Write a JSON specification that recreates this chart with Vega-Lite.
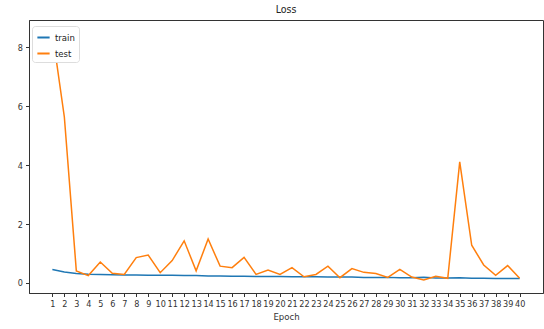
{
  "$schema": "https://vega.github.io/schema/vega-lite/v6.json",
  "width": 514,
  "height": 273,
  "autosize": {"type": "none"},
  "padding": {"left": 29, "top": 20, "right": 1, "bottom": 36},
  "background": "white",
  "title": {"text": "Loss", "fontSize": 10.5, "font": "DejaVu Sans Condensed", "fontWeight": "normal", "color": "#222", "offset": 5},
  "config": {
    "view": {"stroke": "#333", "strokeWidth": 1},
    "axis": {"labelFont": "DejaVu Sans Condensed", "titleFont": "DejaVu Sans Condensed", "labelFontSize": 9, "titleFontSize": 9.5, "labelColor": "#333", "titleColor": "#333", "titleFontWeight": "normal", "tickColor": "#333", "domainColor": "#333", "grid": false, "tickSize": 3.5}
  },
  "data": {"values": [
    {"epoch": 1, "series": "train", "loss": 0.46}, {"epoch": 2, "series": "train", "loss": 0.37}, {"epoch": 3, "series": "train", "loss": 0.32}, {"epoch": 4, "series": "train", "loss": 0.30}, {"epoch": 5, "series": "train", "loss": 0.29}, {"epoch": 6, "series": "train", "loss": 0.28}, {"epoch": 7, "series": "train", "loss": 0.27}, {"epoch": 8, "series": "train", "loss": 0.27}, {"epoch": 9, "series": "train", "loss": 0.26}, {"epoch": 10, "series": "train", "loss": 0.26},
    {"epoch": 11, "series": "train", "loss": 0.26}, {"epoch": 12, "series": "train", "loss": 0.25}, {"epoch": 13, "series": "train", "loss": 0.25}, {"epoch": 14, "series": "train", "loss": 0.24}, {"epoch": 15, "series": "train", "loss": 0.24}, {"epoch": 16, "series": "train", "loss": 0.23}, {"epoch": 17, "series": "train", "loss": 0.23}, {"epoch": 18, "series": "train", "loss": 0.22}, {"epoch": 19, "series": "train", "loss": 0.22}, {"epoch": 20, "series": "train", "loss": 0.22},
    {"epoch": 21, "series": "train", "loss": 0.21}, {"epoch": 22, "series": "train", "loss": 0.21}, {"epoch": 23, "series": "train", "loss": 0.21}, {"epoch": 24, "series": "train", "loss": 0.20}, {"epoch": 25, "series": "train", "loss": 0.20}, {"epoch": 26, "series": "train", "loss": 0.20}, {"epoch": 27, "series": "train", "loss": 0.19}, {"epoch": 28, "series": "train", "loss": 0.19}, {"epoch": 29, "series": "train", "loss": 0.19}, {"epoch": 30, "series": "train", "loss": 0.18},
    {"epoch": 31, "series": "train", "loss": 0.18}, {"epoch": 32, "series": "train", "loss": 0.19}, {"epoch": 33, "series": "train", "loss": 0.17}, {"epoch": 34, "series": "train", "loss": 0.17}, {"epoch": 35, "series": "train", "loss": 0.18}, {"epoch": 36, "series": "train", "loss": 0.16}, {"epoch": 37, "series": "train", "loss": 0.16}, {"epoch": 38, "series": "train", "loss": 0.15}, {"epoch": 39, "series": "train", "loss": 0.15}, {"epoch": 40, "series": "train", "loss": 0.15},
    {"epoch": 1, "series": "test", "loss": 8.5}, {"epoch": 2, "series": "test", "loss": 5.63}, {"epoch": 3, "series": "test", "loss": 0.41}, {"epoch": 4, "series": "test", "loss": 0.25}, {"epoch": 5, "series": "test", "loss": 0.71}, {"epoch": 6, "series": "test", "loss": 0.33}, {"epoch": 7, "series": "test", "loss": 0.29}, {"epoch": 8, "series": "test", "loss": 0.86}, {"epoch": 9, "series": "test", "loss": 0.95}, {"epoch": 10, "series": "test", "loss": 0.35},
    {"epoch": 11, "series": "test", "loss": 0.76}, {"epoch": 12, "series": "test", "loss": 1.43}, {"epoch": 13, "series": "test", "loss": 0.41}, {"epoch": 14, "series": "test", "loss": 1.49}, {"epoch": 15, "series": "test", "loss": 0.57}, {"epoch": 16, "series": "test", "loss": 0.52}, {"epoch": 17, "series": "test", "loss": 0.87}, {"epoch": 18, "series": "test", "loss": 0.29}, {"epoch": 19, "series": "test", "loss": 0.44}, {"epoch": 20, "series": "test", "loss": 0.29},
    {"epoch": 21, "series": "test", "loss": 0.52}, {"epoch": 22, "series": "test", "loss": 0.21}, {"epoch": 23, "series": "test", "loss": 0.29}, {"epoch": 24, "series": "test", "loss": 0.57}, {"epoch": 25, "series": "test", "loss": 0.18}, {"epoch": 26, "series": "test", "loss": 0.49}, {"epoch": 27, "series": "test", "loss": 0.36}, {"epoch": 28, "series": "test", "loss": 0.32}, {"epoch": 29, "series": "test", "loss": 0.19}, {"epoch": 30, "series": "test", "loss": 0.46},
    {"epoch": 31, "series": "test", "loss": 0.20}, {"epoch": 32, "series": "test", "loss": 0.10}, {"epoch": 33, "series": "test", "loss": 0.23}, {"epoch": 34, "series": "test", "loss": 0.16}, {"epoch": 35, "series": "test", "loss": 4.11}, {"epoch": 36, "series": "test", "loss": 1.28}, {"epoch": 37, "series": "test", "loss": 0.61}, {"epoch": 38, "series": "test", "loss": 0.26}, {"epoch": 39, "series": "test", "loss": 0.59}, {"epoch": 40, "series": "test", "loss": 0.16}
  ]},
  "mark": {"type": "line", "strokeWidth": 1.5, "clip": true},
  "encoding": {
    "x": {"field": "epoch", "type": "quantitative", "title": "Epoch",
      "scale": {"domain": [-0.95, 41.95], "nice": false, "zero": false},
      "axis": {"values": [1,2,3,4,5,6,7,8,9,10,11,12,13,14,15,16,17,18,19,20,21,22,23,24,25,26,27,28,29,30,31,32,33,34,35,36,37,38,39,40], "labelAngle": 0, "labelFlush": false, "labelOverlap": false, "titlePadding": 3, "labelPadding": 3}},
    "y": {"field": "loss", "type": "quantitative", "title": null,
      "scale": {"domain": [-0.34, 8.92], "nice": false, "zero": false},
      "axis": {"values": [0, 2, 4, 6, 8], "labelPadding": 3}},
    "color": {"field": "series", "type": "nominal", "sort": ["train", "test"],
      "scale": {"domain": ["train", "test"], "range": ["#1f77b4", "#ff7f0e"]},
      "legend": {"title": null, "orient": "none", "legendX": 3, "legendY": 6, "symbolType": "stroke", "symbolStrokeWidth": 2, "symbolSize": 150, "fillColor": "white", "strokeColor": "#ddd", "cornerRadius": 3, "padding": 4, "labelFont": "DejaVu Sans Condensed", "labelFontSize": 9.5, "labelColor": "#222", "rowPadding": 4}}
  }
}
